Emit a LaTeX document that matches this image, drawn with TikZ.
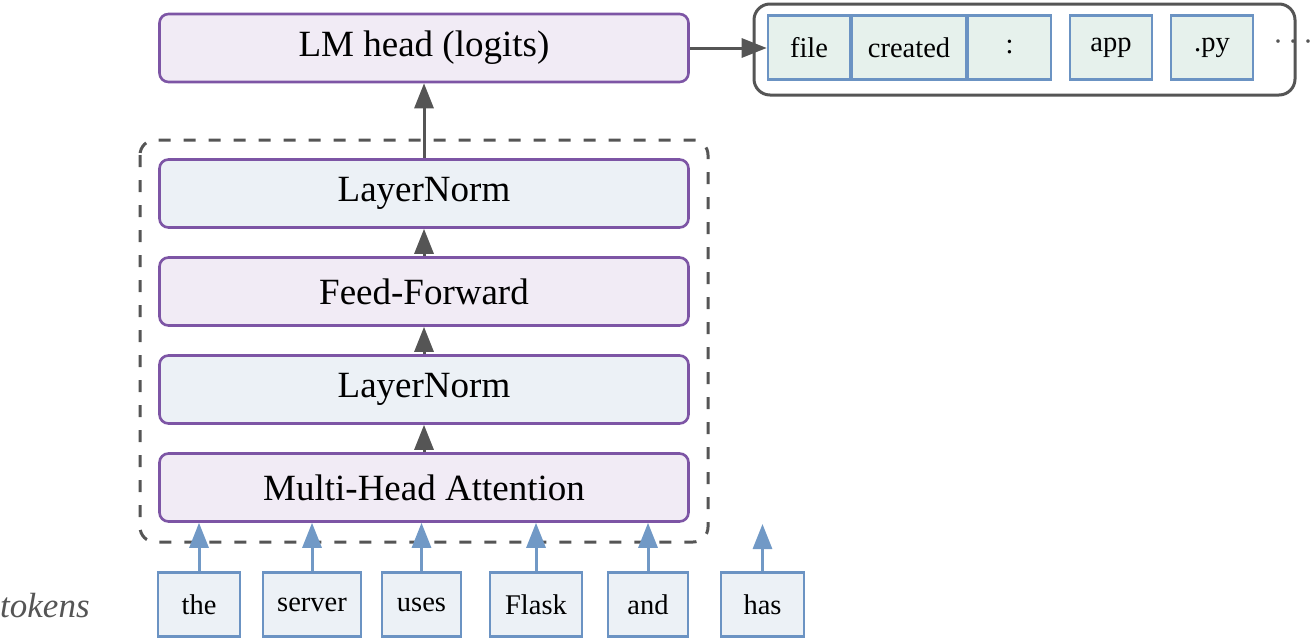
\documentclass[tikz,border=0pt]{standalone}
\usepackage{fontspec}
\setmainfont{LiberationSerif}[Extension=.ttf, UprightFont=*-Regular, ItalicFont=*-Italic, BoldFont=*-Bold]
\usetikzlibrary{arrows.meta}
\definecolor{purpB}{HTML}{7D55A5}
\definecolor{purpF}{HTML}{F1EBF5}
\definecolor{blueF}{HTML}{ECF1F6}
\definecolor{blueB}{HTML}{6B93C3}
\definecolor{greenF}{HTML}{E6F1EC}
\definecolor{grayC}{HTML}{555555}
\definecolor{arrB}{HTML}{7199C6}
\tikzset{
  layerbox/.style={draw=purpB, line width=2.6pt, rounded corners=9pt, minimum width=529pt, minimum height=68pt, inner sep=0pt, font=\fontsize{37}{40}\selectfont},
  purplebox/.style={layerbox, fill=purpF},
  bluebox/.style={layerbox, fill=blueF},
  tokbox/.style={draw=blueB, line width=2.6pt, fill=blueF, minimum height=64pt, inner sep=0pt, font=\fontsize{28.5}{30}\selectfont},
  outbox/.style={tokbox, fill=greenF},
  grayarrow/.style={draw=grayC, line width=3pt, -{Triangle[length=25pt,width=19pt]}},
  bluearrow/.style={draw=arrB, line width=3pt, -{Triangle[length=25pt,width=19pt]}},
}
\begin{document}
\begin{tikzpicture}[x=1pt,y=-1pt]
\useasboundingbox (0,0) rectangle (1311,640);
% dashed container
\draw[grayC, line width=3pt, dash pattern=on 12pt off 13pt, rounded corners=15pt] (140,140) rectangle (708,542);
% output container
\draw[grayC, line width=3pt, rounded corners=16pt] (754,4) rectangle (1295,95);
% main stack
\node[purplebox] (lm) at (424,48) {LM head (logits)};
\node[bluebox] (ln2) at (424,193.5) {LayerNorm};
\node[purplebox] (ff) at (424,291.5) {Feed-Forward};
\node[bluebox] (ln1) at (424,389.5) {LayerNorm};
\node[purplebox] (mha) at (424,487.5) {Multi-Head Attention};
% output tokens
\node[outbox, minimum width=82pt] (o1) at (809,47.5) {file};
\node[outbox, minimum width=114pt] (o2) at (909,47.5) {created};
\node[outbox, minimum width=83pt] (o3) at (1009.5,47.5) {:};
\node[outbox, minimum width=82pt] (o4) at (1111,47.5) {app};
\node[outbox, minimum width=82pt] (o5) at (1212,47.5) {.py};
\node[text=grayC, font=\fontsize{30}{32}\selectfont, inner sep=0pt] (dots) at (1293,46) {·\hspace{5pt}·\hspace{5pt}·};
% input tokens
\node[tokbox, minimum width=82pt] (t1) at (199,604.5) {the};
\node[tokbox, minimum width=98pt] (t2) at (312,604.5) {server};
\node[tokbox, minimum width=79pt] (t3) at (421.5,604.5) {uses};
\node[tokbox, minimum width=92pt] (t4) at (536,604.5) {Flask};
\node[tokbox, minimum width=80pt] (t5) at (648,604.5) {and};
\node[tokbox, minimum width=83pt] (t6) at (762.5,604.5) {has};
\node[text=grayC, font=\fontsize{35}{38}\selectfont\itshape, anchor=west, inner sep=0pt] (lbl) at (0,606) {tokens};
\coordinate (hasend) at (762.5,524);
% arrows in stack
\draw[grayarrow] (ln2.north) -- (lm.south);
\draw[grayarrow] (ff.north) -- (ln2.south);
\draw[grayarrow] (ln1.north) -- (ff.south);
\draw[grayarrow] (mha.north) -- (ln1.south);
\draw[grayarrow] (lm.east) -- (lm.east -| o1.west);
% token arrows
\foreach \t in {t1,t2,t3,t4,t5}{
  \draw[bluearrow] (\t.north) -- (\t.north |- mha.south);
}
\draw[bluearrow] (t6.north) -- (hasend);
\end{tikzpicture}
\end{document}
